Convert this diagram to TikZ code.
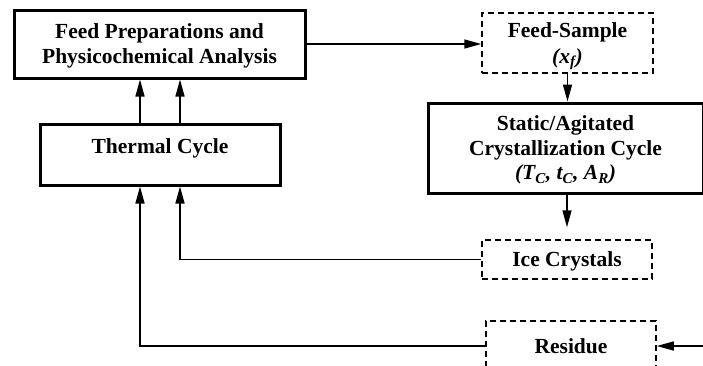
\documentclass[tikz,border=0pt]{standalone}
\usepackage{fontspec}
\setmainfont{Liberation Serif}
\usetikzlibrary{arrows.meta,positioning}

\begin{document}
\begin{tikzpicture}[x=1pt,y=-1pt,
  every node/.style={font=\fontsize{21.5}{25}\selectfont\bfseries},
  blk/.style={draw,line width=3pt,align=center,inner sep=0pt,text depth=0pt},
  smp/.style={draw,line width=1.5pt,dash pattern=on 6pt off 4pt,align=center,inner sep=0pt,text depth=0pt},
  ar/.style={-{Triangle[length=17pt,width=9pt]},line width=1.5pt}]
\useasboundingbox (0,0) rectangle (703,365);
\clip (0,0) rectangle (703,365);
\node[blk,minimum width=291pt,minimum height=68pt] (prep) at (159.5,44) {Feed Preparations and\\Physicochemical Analysis};
\node[blk,minimum width=240pt,minimum height=61pt,text depth=17pt] (therm) at (160,154.5) {Thermal Cycle};
\node[smp,minimum width=171pt,minimum height=60pt] (sample) at (567.5,43) {Feed-Sample\\[1pt]\textit{(x\textsubscript{f})}};
\node[blk,minimum width=275pt,minimum height=90pt] (cryst) at (565.5,148) {Static/Agitated\\Crystallization Cycle\\[-1pt]\textit{(T\textsubscript{C}, t\textsubscript{C}, A\textsubscript{R})}};
\node[smp,minimum width=170pt,minimum height=39pt] (ice) at (567,259.5) {Ice Crystals};
\node[smp,minimum width=170pt,minimum height=50pt] (res) at (571,346) {Residue};
\coordinate (in) at (703,346);
\draw[ar] (prep.east) -- (prep.east -| sample.west);
\draw[ar] (sample.south) -- (sample.south |- cryst.north);
\draw[ar,shorten >=12pt] (cryst.south -| ice.north) -- (ice.north);
\draw[ar] ([xshift=-20pt]therm.north) -- ([xshift=-20pt]therm.north |- prep.south);
\draw[ar] ([xshift=20pt]therm.north) -- ([xshift=20pt]therm.north |- prep.south);
\draw[ar] (ice.west) -| ([xshift=20pt]therm.south);
\draw[ar] (res.west) -| ([xshift=-20pt]therm.south);
\draw[ar] (in) -- (res.east);
\end{tikzpicture}
\end{document}
